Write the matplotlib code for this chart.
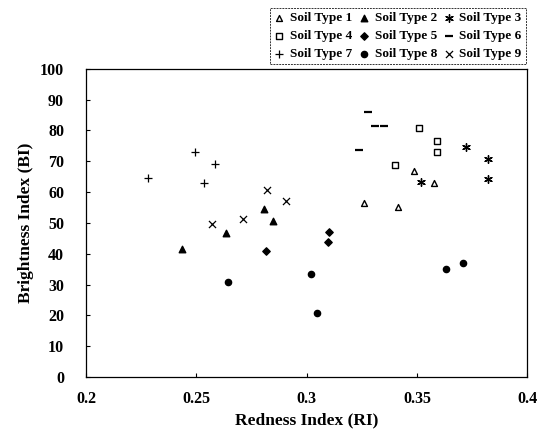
import matplotlib
matplotlib.use("Agg")
import matplotlib.pyplot as plt

plt.rcParams['font.family'] = ['Liberation Serif', 'DejaVu Serif']
plt.rcParams['font.weight'] = 'bold'

# Redness index (RI) and brightness index (BI) per soil type
ri_1 = [0.326, 0.3415, 0.3489, 0.3579]
bi_1 = [56.4, 55.2, 66.8, 63.0]
ri_2 = [0.2435, 0.2635, 0.2805, 0.2845]
bi_2 = [41.6, 46.6, 54.4, 50.6]
ri_3 = [0.3518, 0.3723, 0.3823, 0.3823]
bi_3 = [63.2, 74.7, 70.9, 64.3]
ri_4 = [0.340, 0.3509, 0.3589, 0.3589]
bi_4 = [68.7, 80.7, 76.5, 72.9]
ri_5 = [0.2817, 0.3098, 0.3103]
bi_5 = [41.0, 43.9, 47.1]
ri_6 = [0.3236, 0.328, 0.3312, 0.335]
bi_6 = [73.6, 86.0, 81.3, 81.6]
ri_7 = [0.228, 0.2492, 0.2533, 0.2586]
bi_7 = [64.5, 72.9, 63.1, 69.2]
ri_8 = [0.2644, 0.3018, 0.3048, 0.3632, 0.3709]
bi_8 = [30.9, 33.4, 20.8, 35.2, 37.1]
ri_9 = [0.2571, 0.2712, 0.2818, 0.2906]
bi_9 = [49.7, 51.4, 60.7, 57.0]

series = [
    ("Soil Type 1", ri_1, bi_1, dict(marker='^', s=18, facecolors='white', edgecolors='black', linewidths=1.0)),
    ("Soil Type 2", ri_2, bi_2, dict(marker='^', s=22, color='black')),
    ("Soil Type 3", ri_3, bi_3, dict(marker=(6, 2, 0), s=30, color='black', linewidths=1.0)),
    ("Soil Type 4", ri_4, bi_4, dict(marker='s', s=24, facecolors='white', edgecolors='black', linewidths=1.0)),
    ("Soil Type 5", ri_5, bi_5, dict(marker='D', s=14, color='black')),
    ("Soil Type 6", ri_6, bi_6, dict(marker='_', s=40, color='black', linewidths=1.6)),
    ("Soil Type 7", ri_7, bi_7, dict(marker='+', s=32, color='black', linewidths=0.9)),
    ("Soil Type 8", ri_8, bi_8, dict(marker='o', s=20, color='black')),
    ("Soil Type 9", ri_9, bi_9, dict(marker='x', s=26, color='black', linewidths=0.9)),
]

fig = plt.figure(figsize=(5.39, 4.30), dpi=100)
ax = fig.add_axes([0.160, 0.123, 0.818, 0.717])

handles = {}
for name, x, y, style in series:
    handles[name] = ax.scatter(x, y, label=name, **style)

ax.set_xlim(0.2, 0.4)
ax.set_ylim(0, 100)
ax.set_xticks([0.2, 0.25, 0.3, 0.35, 0.4])
ax.set_xticklabels(["0.2", "0.25", "0.3", "0.35", "0.4"])
ax.set_yticks(range(0, 101, 10))
ax.tick_params(direction='in', length=3, labelsize=11.5)
ax.tick_params(axis='y', pad=16)
ax.tick_params(axis='x', pad=10)
for lab in ax.get_xticklabels() + ax.get_yticklabels():
    lab.set_fontweight('bold')
for sp in ax.spines.values():
    sp.set_linewidth(0.9)

ax.set_xlabel("Redness Index (RI)", fontsize=12.5, fontweight='bold', labelpad=4)
ax.set_ylabel("Brightness Index (BI)", fontsize=12.5, fontweight='bold', labelpad=4)

# legend is read row by row in the reference, matplotlib fills columns
order = ["Soil Type 1", "Soil Type 4", "Soil Type 7",
         "Soil Type 2", "Soil Type 5", "Soil Type 8",
         "Soil Type 3", "Soil Type 6", "Soil Type 9"]
leg = fig.legend([handles[n] for n in order], order, ncol=3,
                 loc='upper right', bbox_to_anchor=(0.98, 0.988),
                 prop={'weight': 'bold', 'size': 9.5},
                 frameon=True, fancybox=False, borderpad=0.3,
                 handlelength=0.8, handletextpad=0.4, columnspacing=0.5,
                 labelspacing=0.45, borderaxespad=0.2)
leg.get_frame().set_edgecolor('black')
leg.get_frame().set_linewidth(0.7)
leg.get_frame().set_linestyle((0, (2, 1)))

fig.savefig("out.png", dpi=100)
